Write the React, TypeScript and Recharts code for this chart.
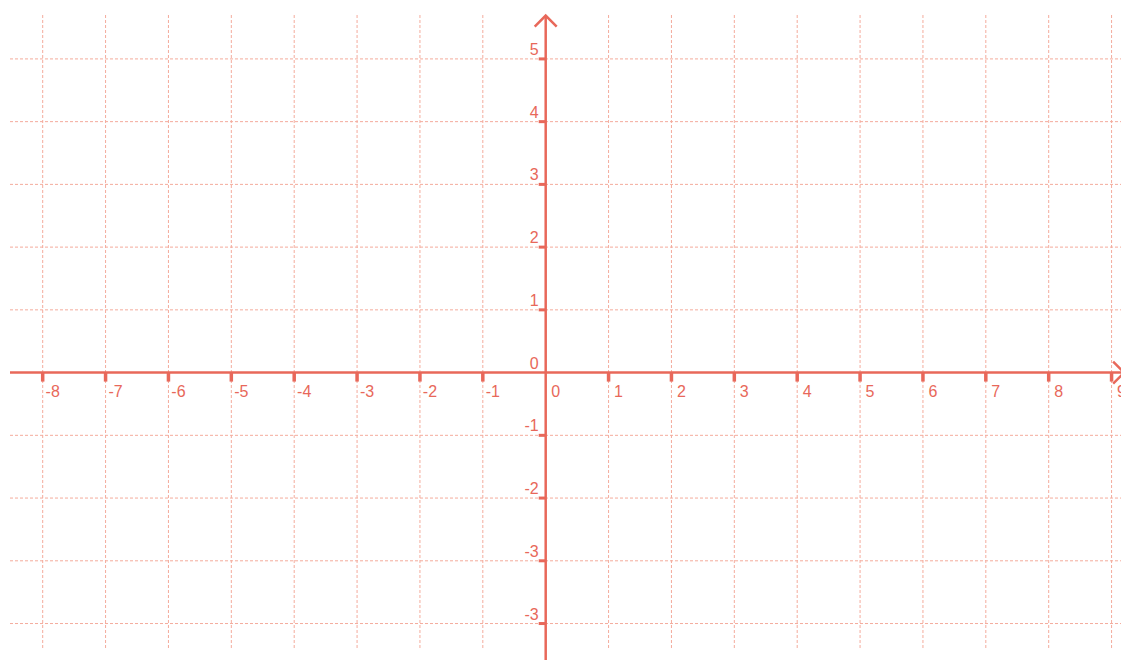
import { ScatterChart, Scatter, XAxis, YAxis, CartesianGrid, ReferenceLine } from "recharts";

// grid / tick values
const xTicks = [-8, -7, -6, -5, -4, -3, -2, -1, 0, 1, 2, 3, 4, 5, 6, 7, 8, 9];
const xTickLabels = ["-8", "-7", "-6", "-5", "-4", "-3", "-2", "-1", "0", "1", "2", "3", "4", "5", "6", "7", "8", "9"];
const yTicks = [5, 4, 3, 2, 1, 0, -1, -2, -3, -4];
const yTickLabels = ["5", "4", "3", "2", "1", "0", "-1", "-2", "-3", "-3"];

const xDomain = [-8.52, 9.15];
const yDomain = [-4.39, 5.7];
const xAxisEnd = 9.2;
const yAxisTop = 5.69;
const yAxisBottom = -4.65;

const AXIS = "#e8685a";
const GRID = "#f4ab9c";
const FONT = "'Liberation Sans', Arial, Helvetica, sans-serif";

const xTickData = xTicks.map((x, i) => ({ x, y: 0, label: xTickLabels[i] }));
const yTickData = yTicks.map((y, i) => ({ x: 0, y, label: yTickLabels[i] }));

const XTick = (props: any) => {
  const { cx, cy, payload } = props;
  return (
    <g>
      {payload.x !== 0 && <rect x={cx - 1.75} y={cy} width={3.5} height={9} fill={AXIS} />}
      <text x={cx + 10} y={cy + 24} textAnchor="middle" fontSize={16} fontFamily={FONT} fill={AXIS}>
        {payload.label}
      </text>
    </g>
  );
};

const YTick = (props: any) => {
  const { cx, cy, payload } = props;
  return (
    <g>
      {payload.y !== 0 && <rect x={cx - 7} y={cy - 1.5} width={7} height={3} fill={AXIS} />}
      <text x={cx - 7} y={cy - 4} textAnchor="end" fontSize={16} fontFamily={FONT} fill={AXIS}>
        {payload.label}
      </text>
    </g>
  );
};

// axis line with a chevron at its far end
const ArrowLine = (props: any) => {
  const { x1, y1, x2, y2 } = props;
  const horizontal = Math.abs(y2 - y1) < Math.abs(x2 - x1);
  const tipX = horizontal ? Math.max(x1, x2) : x1;
  const tipY = horizontal ? y1 : Math.min(y1, y2);
  const head = horizontal
    ? `M${tipX - 11},${tipY - 11} L${tipX},${tipY} L${tipX - 11},${tipY + 11}`
    : `M${tipX - 11},${tipY + 11} L${tipX},${tipY} L${tipX + 11},${tipY + 11}`;
  return (
    <g>
      <line x1={x1} y1={y1} x2={x2} y2={y2} stroke={AXIS} strokeWidth={2.5} />
      <path d={head} fill="none" stroke={AXIS} strokeWidth={2.5} />
    </g>
  );
};

export default function App() {
  return (
    <div style={{ position: "absolute", left: 0, top: 0, background: "#fff" }}>
      <ScatterChart width={1121} height={660} margin={{ top: 15, right: 0, bottom: 12, left: 10 }}>
        <CartesianGrid
          stroke={GRID}
          strokeDasharray="3 2"
          verticalValues={xTicks}
          horizontalValues={yTicks}
        />
        <XAxis type="number" dataKey="x" domain={xDomain} hide allowDataOverflow />
        <YAxis type="number" dataKey="y" domain={yDomain} hide allowDataOverflow />
        <ReferenceLine
          segment={[{ x: xDomain[0], y: 0 }, { x: xAxisEnd, y: 0 }]}
          ifOverflow="visible"
          shape={ArrowLine}
        />
        <ReferenceLine
          segment={[{ x: 0, y: yAxisBottom }, { x: 0, y: yAxisTop }]}
          ifOverflow="visible"
          shape={ArrowLine}
        />
        <Scatter data={xTickData} shape={XTick} isAnimationActive={false} />
        <Scatter data={yTickData} shape={YTick} isAnimationActive={false} />
      </ScatterChart>
    </div>
  );
}
